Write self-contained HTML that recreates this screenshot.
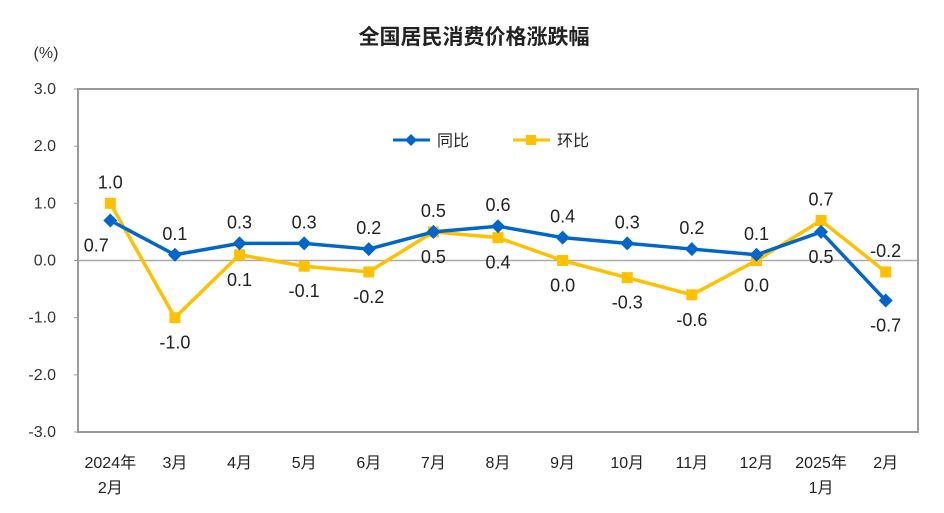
<!DOCTYPE html>
<html><head><meta charset="utf-8"><style>
body{margin:0;background:#fff;}
svg{display:block;font-family:"Liberation Sans","Noto Sans CJK SC",sans-serif;}
</style></head><body>
<svg id="c" width="944" height="513">
<text x="474" y="44" text-anchor="middle" font-size="21" font-weight="bold" fill="#222" font-family="'Noto Sans CJK SC',sans-serif">全国居民消费价格涨跌幅</text>
<text x="46" y="58" text-anchor="middle" font-size="16" fill="#333">(%)</text>
<rect x="78" y="89" width="840" height="343" fill="none" stroke="#999" stroke-width="2"/>
<g>
<line x1="393" y1="140" x2="430" y2="140" stroke="#0066cc" stroke-width="3"/>
<path d="M411 134 L417 140 L411 146 L405 140Z" fill="#0066cc"/>
<text x="437" y="146" font-size="16" fill="#222">同比</text>
<line x1="513" y1="140" x2="550" y2="140" stroke="#ffc000" stroke-width="3"/>
<rect x="526" y="135" width="10" height="10" fill="#ffc000"/>
<text x="557" y="146" font-size="16" fill="#222">环比</text>
</g>
</svg>
<script>
const categories=["2024年|2月","3月","4月","5月","6月","7月","8月","9月","10月","11月","12月","2025年|1月","2月"];
const yoy=[0.7,0.1,0.3,0.3,0.2,0.5,0.6,0.4,0.3,0.2,0.1,0.5,-0.7];
const mom=[1.0,-1.0,0.1,-0.1,-0.2,0.5,0.4,0.0,-0.3,-0.6,0.0,0.7,-0.2];
const yTicks=[3,2,1,0,-1,-2,-3];
const yoyLabelSide=[1,-1,-1,-1,-1,-1,-1,-1,-1,-1,-1,1,1];
const momLabelSide=[-1,1,1,1,1,1,1,1,1,1,1,-1,-1];
const svg=document.getElementById('c');
const NS='http://www.w3.org/2000/svg';
const L=78,R=918,T=89,B=432,band=(R-L)/categories.length;
const x=i=>L+band*(i+0.5);
const y=v=>T+(3-v)/6*(B-T);
function mk(t,a){const e=document.createElementNS(NS,t);for(const k in a)e.setAttribute(k,a[k]);svg.appendChild(e);return e;}
yTicks.forEach(v=>{
 const t=mk('text',{x:56,y:y(v)+5,'text-anchor':'end','font-size':16,fill:'#333'});
 t.textContent=v.toFixed(1);
 
 
 const k=mk('line',{x1:74,x2:78,y1:y(v),y2:y(v),stroke:'#999'});
 
 
});
const z=mk('line',{x1:L,x2:R,y1:y(0),y2:y(0),stroke:'#aaa','stroke-width':1.5});


categories.forEach((c,i)=>{
 const p=c.split('|');
 p.forEach((s,j)=>{
  const t=mk('text',{x:x(i),y:468+j*25,'text-anchor':'middle','font-size':16,fill:'#222'});
  t.textContent=s;
  
  
 });
});
function series(vals,col,name,marker){
 const pl=mk('polyline',{points:vals.map((v,i)=>x(i)+','+y(v)).join(' '),fill:'none',stroke:col,'stroke-width':3.5,'stroke-linejoin':'round'});
 
 
 vals.forEach((v,i)=>{
  let m;
  if(marker==='d') m=mk('path',{d:`M${x(i)} ${y(v)-7} L${x(i)+7} ${y(v)} L${x(i)} ${y(v)+7} L${x(i)-7} ${y(v)}Z`,fill:col});
  else m=mk('rect',{x:x(i)-5.5,y:y(v)-5.5,width:11,height:11,fill:col});
  
  
 });
}
function labels(vals,name,sides){
 vals.forEach((v,i)=>{
  const ty=sides[i]<0?y(v)-15:y(v)+31;
  const t=mk('text',{x:x(i)-(i===0&&name==='yoy'?14:0),y:ty,'text-anchor':'middle','font-size':18,fill:'#222'});
  t.textContent=v.toFixed(1);
  
  
 });
}
series(mom,'#ffc000','mom','s');
series(yoy,'#0066cc','yoy','d');
labels(yoy,'yoy',yoyLabelSide);
labels(mom,'mom',momLabelSide);
</script>
</body></html>
